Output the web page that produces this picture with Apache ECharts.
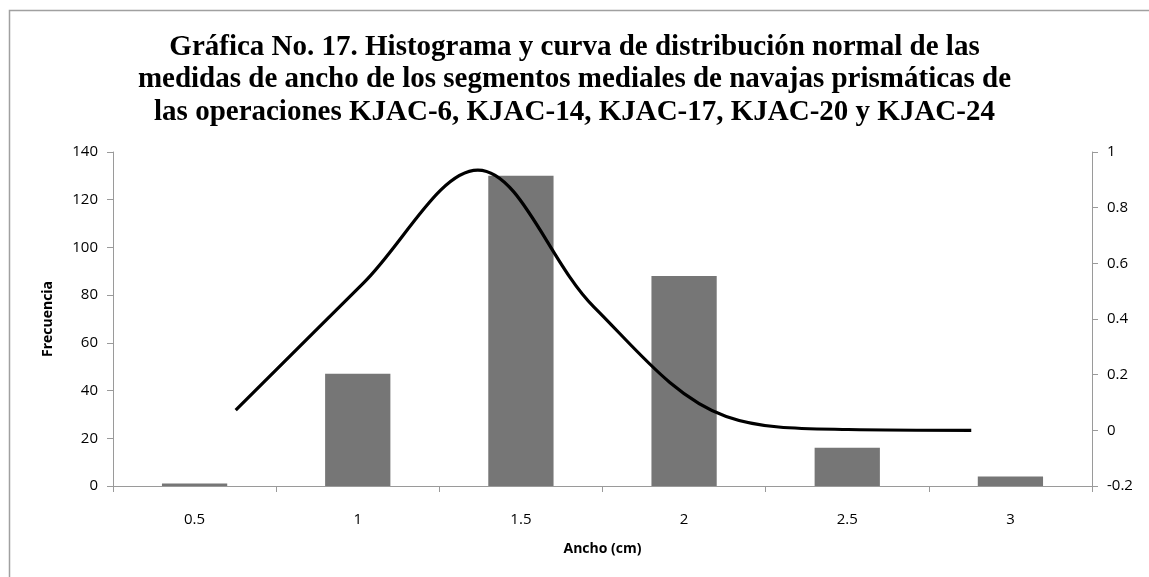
<!DOCTYPE html>
<html>
<head>
<meta charset="utf-8">
<script src="https://cdn.jsdelivr.net/npm/echarts@6/dist/echarts.min.js"></script>
<style>
  html, body { margin: 0; padding: 0; background: #ffffff; }
  #chart { width: 1149px; height: 577px; }
</style>
</head>
<body>
<div id="chart"></div>
<script>
// Histogram bins (width in cm) and counts
const categories = ['0.5', '1', '1.5', '2', '2.5', '3'];
const frequencies = [1, 47, 130, 88, 16, 4];

// Normal curve points: x position (cm) and density
const curveX = [0.626, 1.018, 1.368, 1.724, 2.129, 2.503, 2.88];
const curveY = [0.073, 0.53, 0.935, 0.443, 0.05, 0.003, 0.0];

const titleText = 'Gráfica No. 17. Histograma y curva de distribución normal de las\n' +
  'medidas de ancho de los segmentos mediales de navajas prismáticas de\n' +
  'las operaciones KJAC-6, KJAC-14, KJAC-17, KJAC-20 y KJAC-24';

const axisGray = '#9a9a9a';
const labelFont = '"Open Sans", "Liberation Sans", sans-serif';

const chart = echarts.init(document.getElementById('chart'), null, { renderer: 'canvas' });

chart.setOption({
  animation: false,
  backgroundColor: '#ffffff',
  title: {
    text: titleText,
    left: 'center',
    top: 26,
    textStyle: {
      fontFamily: '"Liberation Serif", "Times New Roman", serif',
      fontWeight: 'bold',
      fontSize: 29,
      lineHeight: 32.5,
      color: '#000000'
    }
  },
  graphic: [{
    type: 'rect',
    shape: { x: 9.5, y: 10.5, width: 1200, height: 700 },
    style: { fill: 'none', stroke: '#a0a0a0', lineWidth: 1.5 },
    silent: true,
    z: 0
  }],
  grid: { left: 113, right: 57, top: 152, bottom: 91, containLabel: false },
  xAxis: [{
    type: 'category',
    data: categories,
    name: 'Ancho (cm)',
    nameLocation: 'middle',
    nameGap: 56,
    nameTextStyle: { fontFamily: labelFont, fontWeight: 'bold', fontSize: 14, color: '#000' },
    axisLine: { lineStyle: { color: axisGray, width: 1 } },
    axisTick: { show: true, alignWithLabel: false, length: 6, lineStyle: { color: axisGray } },
    axisLabel: { margin: 26, fontFamily: labelFont, fontSize: 15, color: '#000' },
    splitLine: { show: false }
  }, {
    type: 'value',
    min: 0.25,
    max: 3.25,
    show: false,
    splitLine: { show: false }
  }],
  yAxis: [{
    type: 'value',
    min: 0,
    max: 140,
    interval: 20,
    name: 'Frecuencia',
    nameLocation: 'middle',
    nameGap: 58,
    nameRotate: 90,
    nameTextStyle: { fontFamily: labelFont, fontWeight: 'bold', fontSize: 14, color: '#000' },
    axisLine: { show: true, lineStyle: { color: axisGray, width: 1 } },
    axisTick: { show: true, length: 6, lineStyle: { color: axisGray } },
    axisLabel: { margin: 15, fontFamily: labelFont, fontSize: 15, color: '#000' },
    splitLine: { show: false }
  }, {
    type: 'value',
    position: 'right',
    min: -0.2,
    max: 1,
    interval: 0.2,
    axisLine: { show: true, lineStyle: { color: axisGray, width: 1 } },
    axisTick: { show: true, length: 6, lineStyle: { color: axisGray } },
    axisLabel: {
      margin: 15, fontFamily: labelFont, fontSize: 15, color: '#000',
      formatter: v => String(parseFloat(v.toFixed(1)))
    },
    splitLine: { show: false }
  }],
  series: [{
    name: 'Frecuencia',
    type: 'bar',
    xAxisIndex: 0,
    yAxisIndex: 0,
    data: frequencies,
    barCategoryGap: '60%',
    itemStyle: { color: '#767676' },
    z: 2
  }, {
    name: 'Curva normal',
    type: 'line',
    xAxisIndex: 1,
    yAxisIndex: 1,
    data: curveX.map((x, i) => [x, curveY[i]]),
    smooth: 0.35,
    showSymbol: false,
    lineStyle: { color: '#000000', width: 3.2 },
    z: 3
  }]
});
</script>
</body>
</html>
